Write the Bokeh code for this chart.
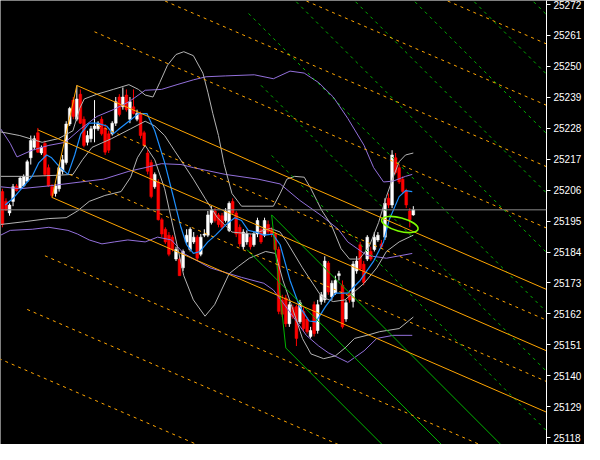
from bokeh.plotting import figure
from bokeh.models import Range1d, FixedTicker, Label, Span, ColumnDataSource
from bokeh.embed import file_html
from bokeh.resources import INLINE

# ---------------- candles (bar index = position) ----------------
opens = [25205.5, 25202.0, 25197.9, 25202.0, 25207.5, 25206.8, 25207.5, 25209.2, 25217.5, 25221.2,
         25226.4, 25219.2, 25222.6, 25214.0, 25207.2, 25204.8, 25206.5, 25212.7, 25215.8, 25229.5,
         25238.0, 25231.2, 25240.1, 25231.2, 25223.0, 25224.3, 25227.8, 25227.8, 25231.2, 25228.1,
         25226.0, 25226.0, 25229.8, 25239.1, 25235.6, 25239.8, 25231.2, 25235.6, 25231.2, 25233.2,
         25226.4, 25219.2, 25215.8, 25207.2, 25208.9, 25195.5, 25192.1, 25190.0, 25189.3, 25181.5,
         25181.5, 25178.4, 25187.6, 25184.9, 25187.6, 25189.3, 25183.2, 25190.0, 25190.0, 25194.5,
         25198.6, 25197.2, 25196.9, 25195.2, 25191.7, 25202.0, 25197.9, 25192.8, 25185.9, 25187.6,
         25189.3, 25186.6, 25190.4, 25192.1, 25190.0, 25193.8, 25192.1, 25190.4, 25184.9, 25167.0,
         25167.7, 25158.5, 25164.3, 25164.6, 25159.2, 25162.9, 25160.2, 25154.0, 25165.3, 25156.1,
         25166.4, 25167.0, 25180.1, 25168.1, 25169.4, 25175.6, 25172.2, 25160.2, 25169.4, 25166.4,
         25177.3, 25186.6, 25179.7, 25181.5, 25184.2, 25184.9, 25188.3, 25186.9, 25189.3, 25203.1,
         25200.7, 25217.5, 25214.0, 25209.9, 25205.8, 25198.6, 25197.2]
highs = [25206.5, 25203.1, 25201.3, 25208.2, 25208.2, 25210.9, 25211.6, 25216.8, 25225.4, 25225.4,
         25228.1, 25221.9, 25223.6, 25215.1, 25208.2, 25208.2, 25215.1, 25218.5, 25230.5, 25235.6,
         25239.1, 25243.2, 25241.8, 25232.2, 25227.1, 25228.8, 25238.0, 25230.5, 25232.2, 25229.5,
         25227.1, 25230.5, 25239.1, 25240.1, 25242.5, 25241.8, 25239.1, 25241.8, 25234.6, 25233.9,
         25227.1, 25220.2, 25216.8, 25212.3, 25209.9, 25196.2, 25192.8, 25191.1, 25190.0, 25185.9,
         25182.5, 25184.9, 25192.1, 25192.8, 25191.1, 25190.0, 25190.4, 25192.1, 25198.6, 25200.3,
         25199.6, 25197.9, 25197.9, 25199.6, 25202.0, 25203.1, 25198.6, 25193.8, 25192.1, 25191.7,
         25190.4, 25191.1, 25196.2, 25192.8, 25196.2, 25195.2, 25192.8, 25191.1, 25185.9, 25168.8,
         25168.8, 25166.4, 25165.3, 25165.3, 25167.0, 25164.3, 25160.9, 25157.4, 25166.4, 25167.0,
         25169.8, 25182.5, 25180.8, 25173.9, 25175.6, 25177.3, 25173.9, 25167.0, 25170.5, 25180.8,
         25182.5, 25187.6, 25180.8, 25190.0, 25185.9, 25191.1, 25191.1, 25188.3, 25203.1, 25204.8,
         25220.2, 25219.2, 25215.1, 25210.9, 25206.5, 25199.6, 25200.3]
lows = [25192.8, 25198.6, 25196.9, 25200.3, 25205.5, 25206.5, 25207.2, 25208.9, 25215.1, 25220.2,
        25219.2, 25218.5, 25210.9, 25207.2, 25203.4, 25203.7, 25205.5, 25211.6, 25215.1, 25228.8,
        25231.2, 25230.5, 25229.5, 25221.2, 25221.9, 25223.0, 25223.0, 25227.1, 25225.4, 25218.5,
        25219.2, 25225.4, 25228.8, 25232.2, 25234.6, 25233.9, 25229.8, 25232.9, 25230.5, 25224.3,
        25221.2, 25211.6, 25203.1, 25206.5, 25195.2, 25189.3, 25186.9, 25182.5, 25184.2, 25180.8,
        25175.6, 25177.3, 25186.9, 25184.2, 25186.9, 25180.8, 25182.5, 25189.3, 25189.3, 25193.8,
        25194.5, 25192.8, 25192.1, 25194.5, 25191.1, 25197.2, 25189.3, 25185.9, 25184.9, 25186.6,
        25184.9, 25185.9, 25189.3, 25186.9, 25189.3, 25190.0, 25189.3, 25184.2, 25161.9, 25160.9,
        25157.4, 25157.4, 25160.2, 25150.6, 25158.5, 25155.7, 25155.0, 25153.3, 25154.0, 25155.0,
        25165.3, 25166.0, 25168.8, 25167.0, 25168.8, 25173.9, 25156.8, 25159.2, 25166.0, 25164.3,
        25176.3, 25177.3, 25172.2, 25180.8, 25180.8, 25184.2, 25187.6, 25185.2, 25188.3, 25199.6,
        25199.6, 25211.6, 25208.2, 25204.8, 25199.6, 25192.8, 25196.9]
closes = [25193.8, 25198.9, 25200.7, 25207.2, 25205.8, 25210.3, 25210.9, 25216.1, 25223.6, 25224.3,
          25219.5, 25221.2, 25211.6, 25207.5, 25204.1, 25207.5, 25214.0, 25216.8, 25229.5, 25235.0,
          25232.2, 25238.4, 25229.8, 25221.9, 25225.4, 25227.8, 25228.8, 25229.8, 25226.0, 25219.5,
          25220.2, 25229.8, 25237.4, 25232.9, 25239.1, 25234.6, 25237.4, 25233.2, 25233.2, 25225.4,
          25221.9, 25212.7, 25203.7, 25211.6, 25195.5, 25190.4, 25187.6, 25183.2, 25184.9, 25184.9,
          25175.6, 25184.2, 25190.0, 25192.1, 25189.3, 25181.8, 25189.3, 25190.4, 25197.2, 25198.9,
          25195.2, 25193.8, 25192.8, 25198.6, 25201.3, 25197.9, 25190.4, 25186.9, 25191.1, 25190.4,
          25185.9, 25190.4, 25195.2, 25187.6, 25195.2, 25191.1, 25190.4, 25184.9, 25162.9, 25161.9,
          25158.5, 25165.3, 25160.9, 25153.3, 25166.0, 25156.8, 25155.7, 25156.1, 25155.0, 25165.3,
          25168.8, 25180.8, 25169.8, 25172.9, 25173.9, 25176.3, 25157.4, 25166.0, 25167.0, 25179.7,
          25180.8, 25178.0, 25173.2, 25189.3, 25181.5, 25189.3, 25190.0, 25185.9, 25201.3, 25200.7,
          25218.5, 25212.3, 25208.9, 25205.5, 25200.7, 25195.5, 25199.0]

# ---------------- indicator lines ----------------
blue_bar = [0.8, 3.0, 4.9, 8.4, 10.3, 12.5, 13.9, 16.3, 18.5, 20.4, 22.1, 24.5, 26.7, 29.4, 31.3, 33.0,
            35.7, 38.4, 40.8, 43.0, 45.8, 48.5, 50.4, 52.0, 53.9, 55.8, 58.0, 60.2, 62.9, 65.6, 67.5,
            69.4, 71.6, 73.8, 76.3, 78.4, 81.2, 83.9, 86.6, 88.5, 91.2, 94.0, 97.5, 101.0, 104.8,
            107.6, 109.2, 112.0, 113.8, 115.7]
blue_price = [25200.7, 25203.1, 25205.8, 25210.9, 25215.8, 25218.5, 25217.5, 25214.0, 25211.6, 25218.5,
              25226.0, 25229.8, 25229.8, 25228.8, 25226.0, 25227.8, 25230.5, 25233.2, 25233.2, 25227.1,
              25215.8, 25202.4, 25192.8, 25186.6, 25183.5, 25184.2, 25187.6, 25190.0, 25193.5, 25196.2,
              25195.2, 25191.7, 25191.1, 25190.0, 25190.4, 25186.6, 25173.9, 25164.6, 25159.5, 25159.2,
              25164.6, 25169.4, 25169.4, 25173.9, 25180.8, 25187.6, 25195.5, 25203.7, 25205.8, 25205.5]

grey_up_bar = [-0.5, 4.9, 11.2, 15.8, 19.9, 21.8, 23.1, 26.7, 31.3, 35.7, 38.4, 40.3, 42.5, 44.4, 46.6,
               49.0, 51.2, 53.9, 56.6, 58.0, 59.4, 61.0, 62.6, 64.8, 67.5, 71.6, 76.5, 78.4, 80.3, 82.5,
               85.2, 87.1, 90.1, 92.9, 95.6, 98.0, 100.8, 103.5, 106.2, 108.4, 110.3, 112.0, 113.8, 116.0]
grey_up_price = [25226.7, 25225.4, 25223.0, 25224.3, 25227.1, 25235.0, 25238.4, 25240.1, 25241.8, 25243.5,
                 25241.8, 25239.8, 25239.1, 25244.2, 25250.4, 25254.2, 25255.2, 25253.8, 25247.6, 25240.8,
                 25233.2, 25225.4, 25215.1, 25204.8, 25200.3, 25200.3, 25200.3, 25204.8, 25209.9, 25210.9,
                 25210.6, 25206.5, 25198.9, 25193.5, 25185.2, 25181.5, 25181.5, 25185.9, 25194.5, 25203.7,
                 25210.6, 25216.1, 25218.5, 25219.2]
grey_mid_bar = [-0.5, 7.6, 15.8, 19.9, 22.6, 25.3, 30.8, 36.2, 40.3, 43.0, 45.8, 48.5, 51.2, 53.9, 57.2,
                60.7, 64.8, 70.3, 75.7, 78.4, 80.3, 84.7, 90.1, 93.4, 96.7, 102.1, 105.7, 108.4, 112.0, 116.0]
grey_mid_price = [25210.9, 25210.9, 25211.3, 25211.6, 25216.8, 25221.2, 25224.3, 25227.8, 25230.5, 25228.8,
                  25225.4, 25220.2, 25215.1, 25209.9, 25203.1, 25196.2, 25191.1, 25190.4, 25192.4, 25191.1,
                  25187.6, 25178.4, 25168.1, 25166.4, 25167.0, 25172.9, 25178.4, 25184.2, 25187.6, 25190.0]
grey_lo_bar = [-0.5, 6.3, 13.1, 18.0, 21.2, 24.5, 28.9, 33.5, 36.2, 38.1, 40.3, 43.0, 45.8, 48.5, 51.2,
               53.9, 57.2, 59.9, 64.0, 66.7, 69.7, 74.3, 77.1, 79.2, 82.0, 84.7, 87.1, 90.7, 94.0, 96.7,
               99.4, 102.9, 106.5, 112.0, 116.0]
grey_lo_price = [25193.8, 25194.8, 25195.9, 25196.2, 25198.6, 25202.0, 25204.1, 25205.5, 25210.6, 25217.5,
                 25221.9, 25216.8, 25206.5, 25191.1, 25175.6, 25167.0, 25161.2, 25165.3, 25176.3, 25179.0,
                 25181.8, 25184.2, 25183.5, 25173.9, 25163.6, 25153.3, 25147.8, 25146.1, 25147.1, 25149.9,
                 25153.3, 25154.4, 25155.7, 25156.8, 25160.9]

purple_up_bar = [-0.5, 2.2, 4.1, 8.4, 13.1, 17.7, 22.1, 26.7, 31.3, 35.7, 40.3, 44.9, 49.3, 53.9, 57.5,
                 62.9, 71.1, 76.5, 81.2, 85.2, 89.3, 93.4, 97.5, 102.1, 104.8, 107.6, 110.3, 113.8, 115.7]
purple_up_price = [25227.8, 25222.6, 25217.8, 25220.2, 25221.9, 25223.0, 25227.8, 25232.2, 25234.6, 25237.4,
                   25241.5, 25241.8, 25243.5, 25245.2, 25246.3, 25246.6, 25247.0, 25245.6, 25248.3, 25247.6,
                   25244.2, 25239.1, 25231.5, 25221.9, 25214.0, 25208.9, 25209.2, 25210.9, 25211.6]
purple_mid_bar = [-0.5, 4.9, 13.1, 22.1, 28.6, 35.7, 40.3, 44.9, 50.4, 53.9, 62.9, 72.2, 78.4, 83.9, 90.1,
                  94.8, 97.5, 102.9, 108.4, 115.7]
purple_mid_price = [25207.2, 25206.5, 25207.5, 25208.9, 25209.9, 25212.7, 25214.0, 25215.4, 25215.1, 25214.0,
                    25211.6, 25209.9, 25208.2, 25202.4, 25196.9, 25192.1, 25187.6, 25182.8, 25181.8, 25183.5]
purple_lo_bar = [-0.5, 2.2, 8.4, 13.1, 18.5, 21.2, 24.5, 28.1, 31.6, 35.4, 40.3, 43.8, 47.7, 51.2, 58.6,
                 67.5, 73.8, 76.5, 79.2, 82.0, 85.8, 89.3, 92.0, 97.5, 102.1, 105.7, 110.3, 115.7]
purple_lo_price = [25190.0, 25191.7, 25192.1, 25192.8, 25191.7, 25190.4, 25188.3, 25186.9, 25187.6, 25188.3,
                   25187.6, 25189.3, 25188.3, 25183.5, 25178.4, 25175.0, 25172.9, 25170.5, 25166.0, 25161.2,
                   25154.4, 25150.6, 25148.2, 25144.8, 25148.9, 25153.3, 25154.4, 25154.4]

# ---------------- drawing objects ----------------
# pitchfork pivots: handle, upper, lower
orange_pivot_bar = [10, 21, 14]
orange_pivot_price = [25227.4, 25243.2, 25203.4]
orange_extra_steps = [-8, -6, -4, -2, 1, 3, 6, 8, 10]      # in half tine spacings
orange_extra_start = [26, 26, 26, 26, 27, 19, 12, 7, -1]
green_pivot_bar = [69, 76, 80]
green_pivot_price = [25184.9, 25197.2, 25149.9]
green_extra_steps = [-1, -2, -3, -4, -5, -6, -7, -8]        # in full tine spacings
green_extra_start = [76, 73, 69.5, 69, 69, 69, 69, 69]

ellipse_bar = [112.2]
ellipse_price = [25193.8]
ellipse_w = [10.6]
ellipse_h = [4.8]

current_price = 25199
tick_values = [25118, 25129, 25140, 25151, 25162, 25173, 25184, 25195,
               25206, 25217, 25228, 25239, 25250, 25261, 25272]

X_END = 160

p = figure(width=584, height=444, output_backend="svg", toolbar_location=None,
           x_axis_location=None, y_axis_location="right",
           x_range=Range1d(-0.545, 153.6), y_range=Range1d(25115.6, 25273.4),
           background_fill_color="black", border_fill_color="black",
           min_border_left=0, min_border_right=0, min_border_top=0, min_border_bottom=0)
p.outline_line_color = None
p.grid.visible = False

ax = p.yaxis[0]
ax.ticker = FixedTicker(ticks=tick_values)
ax.axis_line_color = "white"
ax.major_tick_line_color = "white"
ax.minor_tick_line_color = None
ax.major_tick_in = 0
ax.major_tick_out = 4
ax.major_label_text_color = "white"
ax.major_label_text_font = "Liberation Sans"
ax.major_label_text_font_size = "10px"
ax.major_label_standoff = 3

# current price line
p.add_layout(Span(location=current_price, dimension="width", line_color="#8a8a8a", line_width=1))

# candles
n = min(len(opens), len(highs), len(lows), len(closes))
xs = list(range(n))
cols = ["white" if closes[i] >= opens[i] else "#ff0000" for i in range(n)]
src = ColumnDataSource(dict(x=xs, o=opens[:n], h=highs[:n], l=lows[:n], c=closes[:n],
                            top=[max(opens[i], closes[i]) for i in range(n)],
                            bot=[min(opens[i], closes[i]) for i in range(n)], col=cols))
p.segment(x0="x", y0="h", x1="x", y1="l", line_color="col", line_width=1, source=src)
p.vbar(x="x", top="top", bottom="bot", width=0.78, fill_color="col", line_color="col",
       line_width=0.5, source=src)

# indicators
p.line(purple_up_bar, purple_up_price, line_color="#9370DB", line_width=1)
p.line(purple_mid_bar, purple_mid_price, line_color="#9370DB", line_width=1)
p.line(purple_lo_bar, purple_lo_price, line_color="#9370DB", line_width=1)
p.line(grey_up_bar, grey_up_price, line_color="#b4b4b4", line_width=1)
p.line(grey_mid_bar, grey_mid_price, line_color="#b4b4b4", line_width=1)
p.line(grey_lo_bar, grey_lo_price, line_color="#b4b4b4", line_width=1)
p.line(blue_bar, blue_price, line_color="#1E90FF", line_width=1.2)


def pitchfork(pb, pp, solid_color, dash_color, steps, starts, half):
    bA, bB, bC = pb
    pA, pB, pC = pp
    bm = (bB + bC) / 2.0
    pm = (pB + pC) / 2.0
    s = (pm - pA) / (bm - bA)
    spacing = (pB + s * (bA - bB)) - pA
    # tines
    for b0, p0 in ((bA, pA), (bB, pB), (bC, pC)):
        p.line([b0, X_END], [p0, p0 + s * (X_END - b0)], line_color=solid_color, line_width=1)
    p.line([bB, bC], [pB, pC], line_color=solid_color, line_width=1)
    unit = spacing / 2.0 if half else spacing
    for k, b0 in zip(steps, starts):
        y0 = pB + s * (b0 - bB) - k * unit
        p.line([b0, X_END], [y0, y0 + s * (X_END - b0)], line_color=dash_color,
               line_width=1, line_dash="3 4")


pitchfork(green_pivot_bar, green_pivot_price, "#00b400", "#00b000",
          green_extra_steps, green_extra_start, False)
pitchfork(orange_pivot_bar, orange_pivot_price, "#FFA500", "#FFA500",
          orange_extra_steps, orange_extra_start, True)

p.ellipse(x=ellipse_bar, y=ellipse_price, width=ellipse_w, height=ellipse_h, angle=-0.26,
          fill_alpha=0, line_color="#7CFC00", line_width=1.6)

p.add_layout(Label(x=153.6, y=current_price, x_offset=2, text=str(current_price),
                   text_color="black", text_font="Liberation Sans", text_font_size="10px",
                   text_baseline="middle", background_fill_color="#808080"))

open("out.html", "w").write(file_html(p, INLINE))
